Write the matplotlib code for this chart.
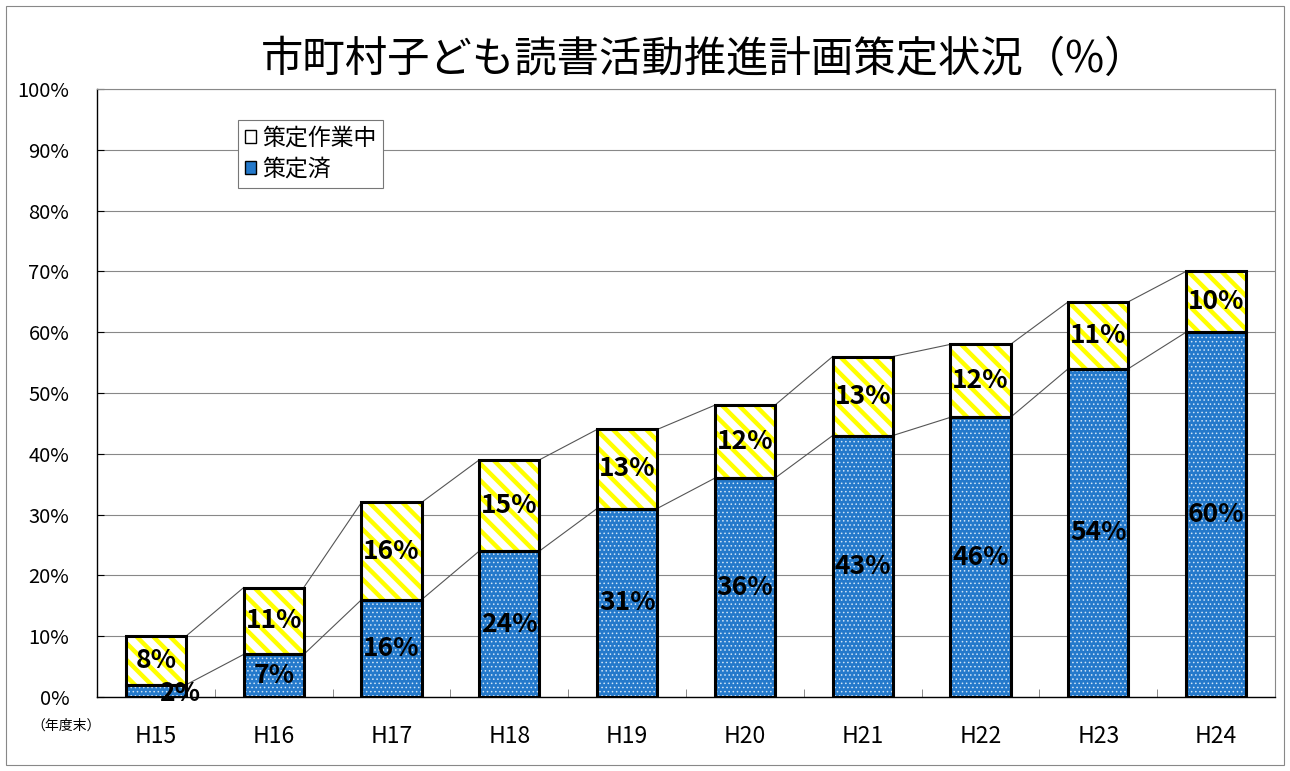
import matplotlib
matplotlib.use("Agg")
import matplotlib.pyplot as plt
from matplotlib.patches import Patch, Rectangle
import numpy as np

plt.rcParams['font.family'] = ['Noto Sans CJK JP', 'DejaVu Sans']

categories = ["H15", "H16", "H17", "H18", "H19", "H20", "H21", "H22", "H23", "H24"]
done = [2, 7, 16, 24, 31, 36, 43, 46, 54, 60]          # 策定済
working = [8, 11, 16, 15, 13, 12, 13, 12, 11, 10]      # 策定作業中
yticks = [0, 10, 20, 30, 40, 50, 60, 70, 80, 90, 100]
title = "市町村子ども読書活動推進計画策定状況（%）"

blue = "#2479cb"
yellow = "#ffff00"

fig = plt.figure(figsize=(12.9, 7.71), dpi=100)
ax = fig.add_axes([97/1290, 1-697/771, (1275-97)/1290, (697-89)/771])

x = np.arange(len(categories))
w = 0.51
d = np.array(done, float)
wk = np.array(working, float)
tot = d + wk

# fills with hatch
plt.rcParams['hatch.linewidth'] = 0.6
ax.bar(x, d, w, color=blue, edgecolor="#cfe4f7", hatch="....", linewidth=0, zorder=3)
plt.rcParams['hatch.linewidth'] = 3.2
ax.bar(x, wk, w, bottom=d, color="white", edgecolor=yellow, hatch="\\\\", linewidth=0, zorder=3)
# outlines
ax.bar(x, d, w, fill=False, edgecolor="black", linewidth=2.2, zorder=4)
ax.bar(x, wk, w, bottom=d, fill=False, edgecolor="black", linewidth=2.2, zorder=4)

# series lines
for i in range(len(x) - 1):
    for s in (d, tot):
        ax.plot([x[i] + w/2, x[i+1] - w/2], [s[i], s[i+1]], color="#555555", lw=0.8, zorder=2)

# labels
lab_kw = dict(ha="center", va="center", fontsize=19, fontweight="bold", zorder=5)
for i in range(len(x)):
    if i == 0:
        ax.text(x[i] + 0.2, d[i] / 2 - 0.4, f"{done[i]}%", **lab_kw)
    else:
        ax.text(x[i], d[i] / 2, f"{done[i]}%", **lab_kw)
    ax.text(x[i], d[i] + wk[i] / 2, f"{working[i]}%", **lab_kw)

ax.set_xlim(-0.5, len(x) - 0.5)
ax.set_ylim(0, 100)
ax.set_yticks(yticks)
ax.set_yticklabels([f"{v}%" for v in yticks], fontsize=14.5)
ax.set_xticks(x)
ax.set_xticklabels(categories, fontsize=16.5)
ax.tick_params(axis="x", length=0, pad=20)
ax.set_xticks(np.arange(len(x) + 1) - 0.5, minor=True)
ax.tick_params(axis="x", which="minor", direction="in", length=6, color="#777777")
ax.tick_params(axis="y", direction="in", length=5, pad=20)

ax.yaxis.grid(True, color="#888888", lw=0.8, zorder=0)
ax.set_axisbelow(True)
for sp in ("top", "right"):
    ax.spines[sp].set_color("#888888")
    ax.spines[sp].set_linewidth(0.8)
ax.spines["left"].set_color("black")
ax.spines["bottom"].set_color("black")
ax.spines["left"].set_linewidth(1.0)
ax.spines["bottom"].set_linewidth(1.0)

fig.text(704/1290, 1-60/771, title, ha="center", va="center", fontsize=30.5)
fig.text(66/1290, 1-726/771, "（年度末）", ha="center", va="center", fontsize=10)

plt.rcParams['hatch.linewidth'] = 1.5
handles = [Patch(facecolor="white", edgecolor="black", label="策定作業中"),
           Patch(facecolor=blue, edgecolor="black", label="策定済")]
leg = ax.legend(handles=handles, loc="upper left", bbox_to_anchor=((238-97)/1178, 1-(120-89)/608),
                fontsize=16.5, frameon=True, fancybox=False, edgecolor="#777777",
                handlelength=0.5, handleheight=0.5, handletextpad=0.25, borderpad=0.3,
                labelspacing=0.35, borderaxespad=0)
leg.get_frame().set_linewidth(0.8)
leg.get_frame().set_alpha(1)

fig.patches.append(Rectangle((6/1290, 6/771), 1278/1290, 759/771, transform=fig.transFigure,
                             fill=False, edgecolor="#888888", lw=0.8))

fig.savefig("out.png", dpi=100)
